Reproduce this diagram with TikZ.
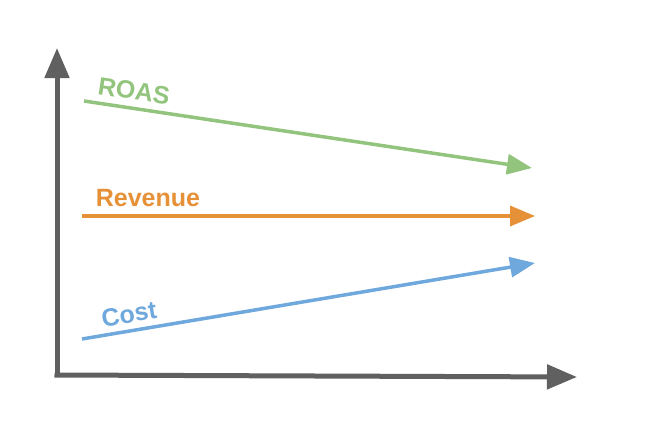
\documentclass[tikz,border=0pt]{standalone}
\usepackage{fontspec}
\setmainfont{Liberation Sans}
\usetikzlibrary{arrows.meta}
\definecolor{axisgray}{HTML}{606060}
\definecolor{roasgreen}{HTML}{93C47D}
\definecolor{revorange}{HTML}{E69138}
\definecolor{costblue}{HTML}{6FA8DC}
\begin{document}
\begin{tikzpicture}[x=1pt,y=-1pt,
  axisline/.style={draw=axisgray,line width=5pt,-{Triangle[length=30pt,width=24pt]}},
  trend/.style={line width=3.5pt,-{Triangle[length=25pt,width=20pt]}},
  lbl/.style={font=\bfseries\fontsize{25}{25}\selectfont,inner sep=0pt}]
\useasboundingbox (0,0) rectangle (653,423);
\coordinate (o) at (57,375);
\coordinate (ytip) at (57,48);
\coordinate (xtip) at (577,377);
\draw[axisline] ([yshift=2.5pt]o) -- (ytip);
\draw[axisline] ([xshift=-2.5pt]o) -- (xtip);
\coordinate (r0) at (84,101); \coordinate (r1) at (532,168);
\coordinate (v0) at (82,216); \coordinate (v1) at (535,216);
\coordinate (c0) at (82,339); \coordinate (c1) at (535,263);
\draw[trend,draw=roasgreen,color=roasgreen] (r0) -- (r1);
\draw[trend,draw=revorange,color=revorange] (v0) -- (v1);
\draw[trend,draw=costblue,color=costblue] (c0) -- (c1);
\node[lbl,text=roasgreen,rotate=-8.5] (roas) at (134,91) {ROAS};
\node[lbl,text=revorange] (rev) at (148,198) {Revenue};
\node[lbl,text=costblue,rotate=9.5] (cost) at (129,314) {Cost};
\end{tikzpicture}
\end{document}
